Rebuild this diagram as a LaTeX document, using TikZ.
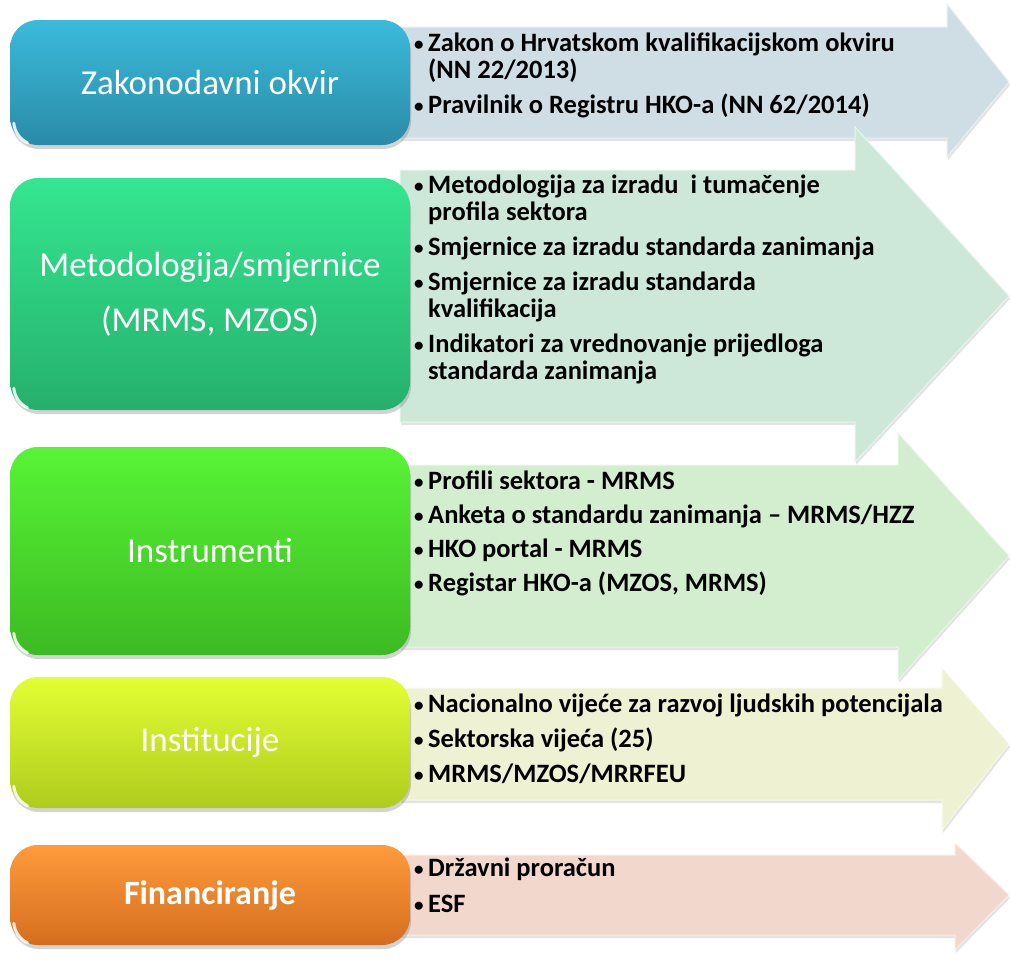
\documentclass[tikz,border=0pt]{standalone}
\usepackage{fontspec}
\setmainfont{Carlito}
\usepackage{xcolor}
\usetikzlibrary{arrows.meta}
\usetikzlibrary{calc}
\usetikzlibrary{shadows}

\definecolor{zakontop}{HTML}{3BBADA}
\definecolor{zakonbot}{HTML}{2A8BA8}
\definecolor{zakonarrow}{HTML}{CFDEE4}
\definecolor{metodtop}{HTML}{34E690}
\definecolor{metodbot}{HTML}{25B06C}
\definecolor{metodarrow}{HTML}{CDE8D9}
\definecolor{instrtop}{HTML}{58F436}
\definecolor{instrbot}{HTML}{3CBA22}
\definecolor{instrarrow}{HTML}{D3EDCF}
\definecolor{insttop}{HTML}{E2FF34}
\definecolor{instbot}{HTML}{AFCB1E}
\definecolor{instarrow}{HTML}{EEF1D2}
\definecolor{fintop}{HTML}{FF9B3C}
\definecolor{finbot}{HTML}{D46E1E}
\definecolor{finarrow}{HTML}{F2D7CC}

\tikzset{
  leftbox/.style={rounded corners=28pt, minimum width=400pt, inner sep=0pt, align=center,
    text=white, font=\fontsize{35}{55}\selectfont,
    drop shadow={opacity=0.35, shadow xshift=1pt, shadow yshift=-4pt}},
  bigarrow/.style={draw=white!55!#1, line width=1pt, fill=#1,
    drop shadow={opacity=0.22, shadow xshift=1pt, shadow yshift=-3pt}},
  listtext/.style={anchor=north west, align=left, inner sep=0pt,
    font=\bfseries\fontsize{26.5}{27}\selectfont},
  gloss/.style={white, line width=3pt, opacity=0.85, line cap=round}
}

\newcommand{\figlistbullet}{\makebox[14pt][l]{\raisebox{1.5pt}{\fontsize{19}{19}\selectfont\textbullet}}}
\newcommand{\figlistindent}{\hspace*{14pt}}

\begin{document}
\begin{tikzpicture}[x=1pt,y=-1pt]
        \newcommand{\figlistboxleft}{10}
        \newcommand{\figlistboxright}{410}
        \newcommand{\figlistboxcx}{210}
        \newcommand{\figlistarrowx}{400}
        \newcommand{\figlisttipx}{1009}
        \newcommand{\figlisttextx}{414}
        \useasboundingbox (0,0) rectangle (1010,961);
        \path[bigarrow=zakonarrow] (\figlistarrowx,27) -- (947,27) -- (947,4) -- (\figlisttipx,82) -- (947,157) -- (947,138) -- (\figlistarrowx,138) -- cycle;
        \path[bigarrow=metodarrow] (\figlistarrowx,170) -- (855,170) -- (855,127) -- (\figlisttipx,296) -- (855,462) -- (855,422) -- (\figlistarrowx,422) -- cycle;
        \path[bigarrow=instrarrow] (\figlistarrowx,465) -- (898,465) -- (898,433) -- (\figlisttipx,556) -- (898,680) -- (898,647) -- (\figlistarrowx,647) -- cycle;
        \path[bigarrow=instarrow] (\figlistarrowx,688) -- (942,688) -- (942,668) -- (\figlisttipx,744) -- (942,830) -- (942,800) -- (\figlistarrowx,800) -- cycle;
        \path[bigarrow=finarrow] (\figlistarrowx,855) -- (955,855) -- (955,843) -- (\figlisttipx,895) -- (955,950) -- (955,935) -- (\figlistarrowx,935) -- cycle;
        \node[leftbox, minimum height=125pt, top color=zakontop, bottom color=zakonbot] (zakonbox) at (\figlistboxcx,82.5) {Zakonodavni okvir};
        \node[leftbox, minimum height=232pt, top color=metodtop, bottom color=metodbot] (metodbox) at (\figlistboxcx,294) {Metodologija/smjernice\\(MRMS, MZOS)};
        \node[leftbox, minimum height=208pt, top color=instrtop, bottom color=instrbot] (instrbox) at (\figlistboxcx,551) {Instrumenti};
        \node[leftbox, minimum height=131pt, top color=insttop, bottom color=instbot] (instbox) at (\figlistboxcx,742.5) {Institucije};
        \node[leftbox, minimum height=100pt, top color=fintop, bottom color=finbot, font=\bfseries\fontsize{34}{40}\selectfont] (finbox) at (\figlistboxcx,895) {Financiranje};
        \draw[gloss] ($(zakonbox.south west)+(4,-22)$) arc[start angle=175, end angle=115, radius=24];
        \draw[gloss] ($(metodbox.south west)+(4,-22)$) arc[start angle=175, end angle=115, radius=24];
        \draw[gloss] ($(instrbox.south west)+(4,-22)$) arc[start angle=175, end angle=115, radius=24];
        \draw[gloss] ($(instbox.south west)+(4,-22)$) arc[start angle=175, end angle=115, radius=24];
        \draw[gloss] ($(finbox.south west)+(4,-22)$) arc[start angle=175, end angle=115, radius=24];
        \node[listtext] (zakonlist) at (\figlisttextx,33) {\figlistbullet Zakon o Hrvatskom kvalifikacijskom okviru\\
          \figlistindent (NN 22/2013)\\[8pt]
          \figlistbullet Pravilnik o Registru HKO-a (NN 62/2014)};
        \node[listtext] (metodlist) at (\figlisttextx,175) {\figlistbullet Metodologija za izradu\ \ i tumačenje\\
          \figlistindent profila sektora\\[8pt]
          \figlistbullet Smjernice za izradu standarda zanimanja\\[8pt]
          \figlistbullet Smjernice za izradu standarda\\
          \figlistindent kvalifikacija\\[8pt]
          \figlistbullet Indikatori za vrednovanje prijedloga\\
          \figlistindent standarda zanimanja};
        \node[listtext] (instrlist) at (\figlisttextx,471) {\figlistbullet Profili sektora - MRMS\\[7pt]
          \figlistbullet Anketa o standardu zanimanja – MRMS/HZZ\\[7pt]
          \figlistbullet HKO portal - MRMS\\[7pt]
          \figlistbullet Registar HKO-a (MZOS, MRMS)};
        \node[listtext] (instlist) at (\figlisttextx,694) {\figlistbullet Nacionalno vijeće za razvoj ljudskih potencijala\\[8pt]
          \figlistbullet Sektorska vijeća (25)\\[8pt]
          \figlistbullet MRMS/MZOS/MRRFEU};
        \node[listtext] (finlist) at (\figlisttextx,858) {\figlistbullet Državni proračun\\[9pt]
          \figlistbullet ESF};
    \end{tikzpicture}
\end{document}
